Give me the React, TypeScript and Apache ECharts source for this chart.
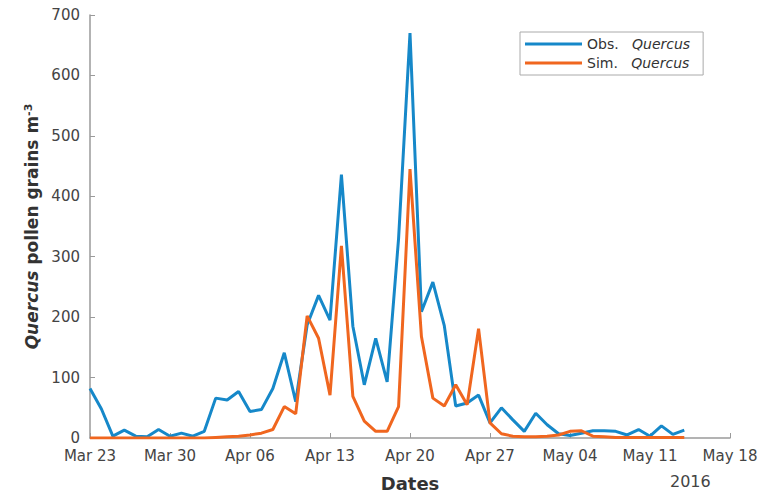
import React, { useEffect, useRef } from "react";
import * as echarts from "echarts";

// Daily observations from Mar 23, 2016 (day index 0) to May 14, 2016
const obsQuercus = [
  82, 48, 3, 13, 3, 2, 14, 3, 8, 3, 11, 66, 63, 77, 44, 47, 82, 141, 60, 187,
  236, 195, 436, 185, 88, 165, 93, 330, 670, 209, 258, 186, 53, 58, 71, 25,
  50, 30, 11, 41, 22, 7, 4, 8, 12, 12, 11, 5, 14, 3, 20, 6, 13,
];
const simQuercus = [
  0, 0, 0, 0, 0, 0, 0, 0, 0, 0, 0, 1, 2, 3, 5, 8, 14, 52, 40, 202,
  165, 71, 318, 69, 28, 11, 11, 52, 445, 168, 66, 53, 88, 55, 181, 25,
  7, 3, 2, 2, 3, 5, 11, 12, 3, 2, 1, 1, 1, 1, 1, 1, 1,
];
const tickLabels = [
  "Mar 23", "Mar 30", "Apr 06", "Apr 13", "Apr 20", "Apr 27", "May 04", "May 11", "May 18",
];
const yearLabel = "2016";

const BLUE = "#1688c9";
const ORANGE = "#f0661f";
const FONT = "DejaVu Sans, Verdana, sans-serif";

export default function App() {
  const ref = useRef<HTMLDivElement>(null);
  useEffect(() => {
    if (!ref.current) return;
    const chart = echarts.init(ref.current, undefined, { renderer: "svg" });
    const toPairs = (arr: number[]) => arr.map((v, i) => [i, v]);
    chart.setOption({
      animation: false,
      backgroundColor: "#ffffff",
      grid: { left: 90, right: 34, top: 15, bottom: 57 },
      legend: {
        orient: "vertical",
        left: 520,
        top: 32,
        padding: [5, 13, 5, 5],
        itemGap: 5,
        itemWidth: 57,
        itemHeight: 3,
        icon: "rect",
        borderColor: "#aaaaaa",
        borderWidth: 1,
        backgroundColor: "#ffffff",
        data: ["Obs.", "Sim."],
        formatter: (name: string) => `${name}   {i|Quercus}`,
        textStyle: {
          fontFamily: FONT,
          fontSize: 14,
          color: "#333",
          rich: {
            i: { fontStyle: "italic", fontSize: 14, color: "#333", fontFamily: FONT },
          },
        },
      },
      xAxis: {
        type: "value",
        min: 0,
        max: 56,
        interval: 7,
        name: "Dates",
        nameLocation: "middle",
        nameGap: 36,
        nameTextStyle: {
          fontSize: 18,
          fontWeight: "bold",
          color: "#333",
          fontFamily: FONT,
        },
        axisLine: { lineStyle: { color: "#9a9a9a", width: 1.5 } },
        axisTick: { inside: true, length: 5, lineStyle: { color: "#9a9a9a" } },
        splitLine: { show: false },
        axisLabel: {
          formatter: (v: number) => tickLabels[Math.round(v / 7)] ?? "",
          fontSize: 15,
          color: "#444",
          margin: 10,
          fontFamily: FONT,
        },
      },
      yAxis: {
        type: "value",
        min: 0,
        max: 700,
        interval: 100,
        name: "{i|Quercus} pollen grains m{s|-3}",
        nameLocation: "middle",
        nameRotate: 90,
        nameGap: 50,
        nameTextStyle: {
          fontSize: 17,
          fontWeight: "bold",
          color: "#333",
          fontFamily: FONT,
          rich: {
            i: { fontStyle: "italic", fontWeight: "bold", fontSize: 17, color: "#333", fontFamily: FONT },
            s: { fontSize: 11, fontWeight: "bold", verticalAlign: "top", color: "#333", fontFamily: FONT },
          },
        },
        axisLine: { show: true, lineStyle: { color: "#9a9a9a", width: 1.5 } },
        axisTick: { show: true, inside: true, length: 5, lineStyle: { color: "#9a9a9a" } },
        splitLine: { show: false },
        axisLabel: {
          fontSize: 15,
          color: "#444",
          margin: 10,
          fontFamily: FONT,
        },
      },
      graphic: [
        {
          type: "text",
          left: 670,
          top: 473,
          style: {
            text: yearLabel,
            fontSize: 16,
            fill: "#444",
            fontFamily: FONT,
          },
        },
      ],
      series: [
        {
          name: "Obs.",
          type: "line",
          data: toPairs(obsQuercus),
          showSymbol: false,
          symbol: "none",
          lineStyle: { color: BLUE, width: 3 },
          itemStyle: { color: BLUE },
          z: 2,
        },
        {
          name: "Sim.",
          type: "line",
          data: toPairs(simQuercus),
          showSymbol: false,
          symbol: "none",
          lineStyle: { color: ORANGE, width: 3 },
          itemStyle: { color: ORANGE },
          z: 3,
        },
      ],
    });
    return () => chart.dispose();
  }, []);
  return <div ref={ref} style={{ width: 764, height: 497, position: "absolute", left: 0, top: 0 }} />;
}
